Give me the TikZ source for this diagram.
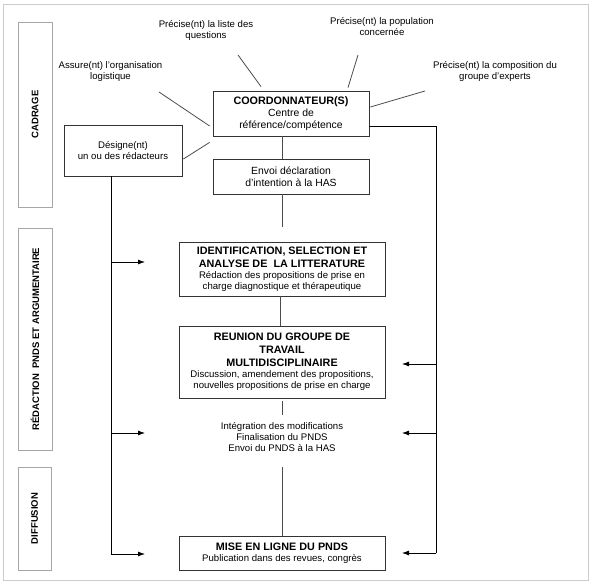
\documentclass[tikz,border=0pt]{standalone}
\usepackage{fontspec}
\setmainfont{Liberation Sans}
\usetikzlibrary{arrows.meta}

\newcommand{\smallfont}{\fontsize{9.6}{11}\selectfont}
\newcommand{\midfont}{\fontsize{10.4}{12}\selectfont}
\newcommand{\sidefont}{\fontsize{9.5}{11}\selectfont\bfseries}
\newcommand{\boldline}[1]{{\fontsize{10.8}{13}\selectfont\bfseries #1}}

\tikzset{
    box/.style={draw=black!80, line width=0.8pt, align=center, inner sep=0pt, font=\smallfont},
    sidebox/.style={draw=black!35, line width=0.8pt, rotate=90, inner sep=0pt, font=\sidefont},
    label/.style={align=center, inner sep=0pt, font=\smallfont},
    link/.style={draw=black!70, line width=0.8pt},
    bus/.style={draw=black, line width=0.8pt},
}

\begin{document}
\begin{tikzpicture}[x=1pt, y=-1pt, >={Latex[length=7pt,width=5pt]}]
            \useasboundingbox (0,0) rectangle (592,585);
            \draw[draw=black!20, line width=0.8pt] (3,4) rectangle (588,580);
            \node[sidebox, minimum width=185pt, minimum height=34pt] (cadrage) at (35,114.5) {CADRAGE};
            \node[sidebox, minimum width=222pt, minimum height=34pt] (redac) at (35,339) {RÉDACTION\ \ PNDS ET ARGUMENTAIRE};
            \node[sidebox, minimum width=103pt, minimum height=33pt] (diffu) at (34.5,518.5) {DIFFUSION};
            \node[label] (liste) at (206,30) {Précise(nt) la liste des\\questions};
            \node[label] (logist) at (110.5,72) {Assure(nt) l'organisation\\logistique};
            \node[label] (popul) at (382,27) {Précise(nt) la population\\concernée};
            \node[label] (compo) at (495,71.5) {Précise(nt) la composition du\\groupe d'experts};
            \node[box, minimum width=156pt, minimum height=45pt, font=\midfont] (coord) at (291,113.5) {
                \boldline{COORDONNATEUR(S)}\\
                Centre de\\
                référence/compétence
            };
            \node[box, minimum width=156pt, minimum height=35pt, font=\midfont] (envoi) at (291,176.5) {
                Envoi déclaration\\
                d'intention à la HAS
            };
            \node[box, minimum width=118pt, minimum height=51pt] (designe) at (123,150.5) {
                Désigne(nt)\\
                un ou des rédacteurs
            };
            \node[box, minimum width=206pt, minimum height=54pt] (ident) at (282,269) {
                \boldline{IDENTIFICATION, SELECTION ET}\\[1.5pt]
                \boldline{ANALYSE DE\ \ LA LITTERATURE}\\
                Rédaction des propositions de prise en\\
                charge diagnostique et thérapeutique
            };
            \node[box, minimum width=206pt, minimum height=72pt] (reunion) at (282,362) {
                \boldline{REUNION DU GROUPE DE}\\[2pt]
                \boldline{TRAVAIL}\\[2pt]
                \boldline{MULTIDISCIPLINAIRE}\\
                Discussion, amendement des propositions,\\
                nouvelles propositions de prise en charge
            };
            \node[label] (integ) at (282,437) {
                Intégration des modifications\\
                Finalisation du PNDS\\
                Envoi du PNDS à la HAS
            };
            \node[box, minimum width=206pt, minimum height=34pt] (mise) at (282,553) {
                \boldline{MISE EN LIGNE DU PNDS}\\
                Publication dans des revues, congrès
            };
            \draw[link] ([shift={(32,25)}]liste.center) -- ([shift={(-30,-4)}]coord.north);
            \draw[link] ([shift={(48.5,20)}]logist.center) -- ([shift={(-3,12.5)}]coord.west);
            \draw[link] ([shift={(1,8.5)}]designe.east) -- ([shift={(-3,6)}]coord.south west);
            \draw[link] ([shift={(-24,28)}]popul.center) -- ([shift={(57,-3)}]coord.north);
            \draw[link] ([shift={(-70,19.5)}]compo.center) -- ([shift={(1,-6.5)}]coord.east);
            \draw[link] ([xshift=-9pt]coord.south) -- ([xshift=-9pt]envoi.north);
            \draw[link] ([xshift=-9pt]envoi.south) -- ([yshift=15pt]ident.north);
            \draw[link] ([xshift=-2pt]ident.south) -- ([xshift=-2pt]reunion.north);
            \draw[link] ([yshift=-3pt]reunion.south) -- ([yshift=22pt]integ.center);
            \draw[link] ([yshift=-30pt]integ.center) -- (mise.north);
            \coordinate (rtop) at (436,126);
            \coordinate (rend) at (436,553);
            \draw[bus] ([yshift=-12.5pt]coord.east) -- (rtop) -- (rend);
            \foreach \n/\y in {r1/364, r2/433, r3/553} {
                \coordinate (\n) at (436,\y);
                \draw[bus, ->] (\n) -- ++(-34,0);
            }
            \coordinate (lend) at (111,554);
            \draw[bus] ([xshift=-12pt]designe.south) -- (lend);
            \foreach \n/\y in {l1/262, l2/433, l3/554} {
                \coordinate (\n) at (111,\y);
                \draw[bus, ->] (\n) -- ++(34,0);
            }
        \end{tikzpicture}
\end{document}
